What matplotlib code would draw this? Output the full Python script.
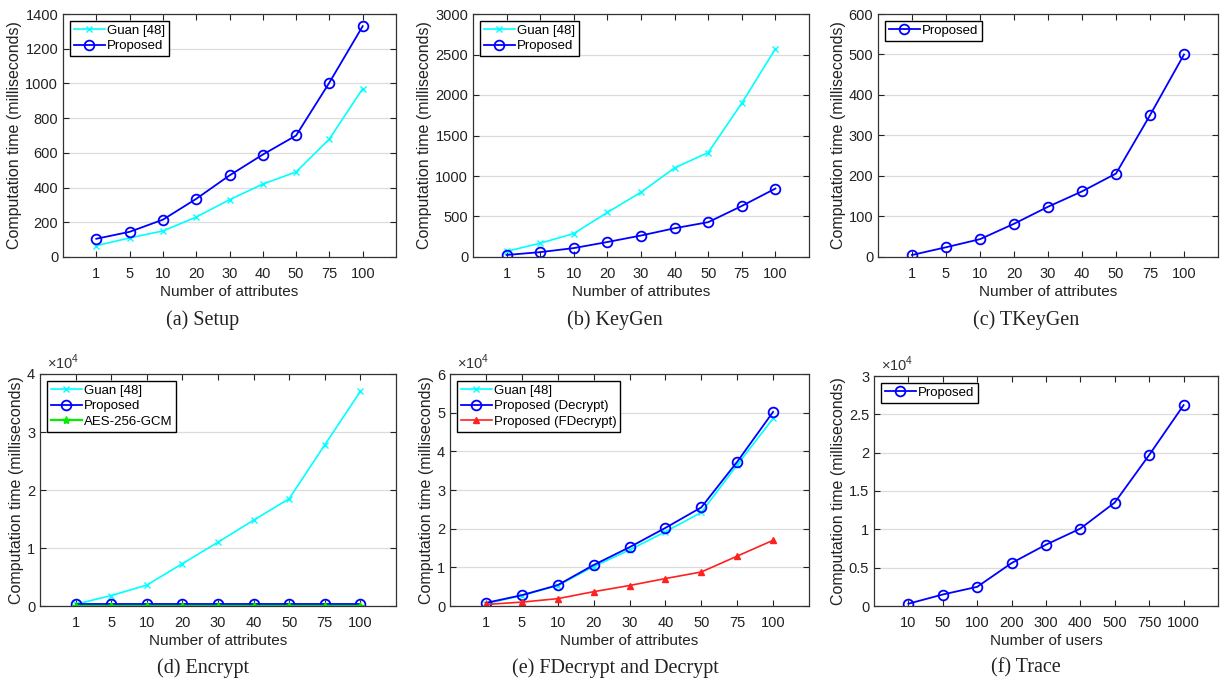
import numpy as np
import matplotlib
matplotlib.use("Agg")
import matplotlib.pyplot as plt
from matplotlib.ticker import FuncFormatter

plt.rcParams['font.family'] = ['Liberation Sans', 'DejaVu Sans']
plt.rcParams['mathtext.fontset'] = 'custom'
plt.rcParams['mathtext.rm'] = 'Liberation Sans'

# x-axis categories
attrs = ['1', '5', '10', '20', '30', '40', '50', '75', '100']
users = ['10', '50', '100', '200', '300', '400', '500', '750', '1000']

# (a) Setup
setup_guan = [65, 110, 150, 230, 330, 420, 490, 680, 970]
setup_prop = [105, 145, 215, 335, 470, 590, 700, 1005, 1330]
# (b) KeyGen
keygen_guan = [70, 170, 290, 550, 800, 1100, 1290, 1900, 2570]
keygen_prop = [25, 60, 110, 185, 265, 355, 430, 630, 845]
# (c) TKeyGen
tkeygen_prop = [5, 24, 44, 82, 124, 162, 206, 350, 500]
# (d) Encrypt
enc_guan = [300, 1800, 3600, 7300, 11000, 14800, 18500, 27800, 37000]
enc_prop = [320, 320, 320, 320, 320, 320, 320, 320, 320]
enc_aes = [40, 40, 40, 40, 40, 40, 40, 40, 40]
# (e) FDecrypt and Decrypt
dec_guan = [600, 2700, 5300, 10200, 14500, 19200, 24200, 36500, 48500]
dec_prop = [800, 2800, 5400, 10600, 15200, 20200, 25500, 37300, 50200]
fdec_prop = [400, 1000, 1900, 3700, 5300, 7100, 8800, 12900, 17000]
# (f) Trace
trace_prop = [300, 1500, 2500, 5600, 8000, 10100, 13500, 19700, 26200]

W, H = 1225, 683
fig = plt.figure(figsize=(W / 100, H / 100), dpi=100)


def make_ax(l, t, r, b):
    return fig.add_axes([l / W, 1 - b / H, (r - l) / W, (b - t) / H])


def style(ax, xt, xlabel, ymax, ystep, sci=False):
    x = np.arange(1, len(xt) + 1)
    ax.set_xlim(0, len(xt) + 1)
    ax.set_xticks(x)
    ax.set_xticklabels(xt)
    ax.set_ylim(0, ymax)
    ax.set_yticks(np.arange(0, ymax + ystep / 2, ystep))
    ax.yaxis.grid(True, color='#dcdcdc', lw=0.9)
    ax.set_axisbelow(True)
    ax.tick_params(direction='in', top=True, right=True, labelsize=10.5,
                   length=4, colors='#222222')
    ax.tick_params(axis='x', pad=7)
    for s in ax.spines.values():
        s.set_color('#333333')
        s.set_linewidth(0.9)
    ax.set_xlabel(xlabel, fontsize=11, color='#222222', labelpad=3)
    ax.set_ylabel('Computation time (milliseconds)', fontsize=11.5,
                  color='#222222', labelpad=2)
    if sci:
        ax.yaxis.set_major_formatter(
            FuncFormatter(lambda v, p: '%g' % (v / 1e4)))
        ax.text(0.02, 1.01, r'$\times10^{4}$', transform=ax.transAxes,
                ha='left', va='bottom', fontsize=10.5, color='#333333')
    return x


def legend(ax):
    leg = ax.legend(loc='upper left', fontsize=9.5, fancybox=False,
                    edgecolor='black', framealpha=1, borderpad=0.3,
                    handlelength=2.4, handletextpad=0.1, labelspacing=0.25,
                    borderaxespad=0.5)
    leg.get_frame().set_linewidth(1.0)


cy = dict(color='#00ffff', marker='x', ms=4, lw=1.2)
bl = dict(color='#0000ff', marker='o', ms=7, mfc='none', mew=1.3, lw=1.3)

# (a)
ax = make_ax(63, 14, 396, 257)
x = style(ax, attrs, 'Number of attributes', 1400, 200)
ax.plot(x, setup_guan, label='Guan [48]', **cy)
ax.plot(x, setup_prop, label='Proposed', **bl)
legend(ax)

# (b)
ax = make_ax(473, 14, 809, 257)
x = style(ax, attrs, 'Number of attributes', 3000, 500)
ax.plot(x, keygen_guan, label='Guan [48]', **cy)
ax.plot(x, keygen_prop, label='Proposed', **bl)
legend(ax)

# (c)
ax = make_ax(878, 14, 1218, 257)
x = style(ax, attrs, 'Number of attributes', 600, 100)
ax.plot(x, tkeygen_prop, label='Proposed', **bl)
legend(ax)

# (d)
ax = make_ax(40, 374, 396, 606)
x = style(ax, attrs, 'Number of attributes', 40000, 10000, sci=True)
ax.plot(x, enc_guan, label='Guan [48]', **cy)
ax.plot(x, enc_prop, label='Proposed', **bl)
ax.plot(x, enc_aes, label='AES-256-GCM', color='#00ee00', marker='*',
        ms=6, lw=1.6)
legend(ax)

# (e)
ax = make_ax(450, 374, 809, 606)
x = style(ax, attrs, 'Number of attributes', 60000, 10000, sci=True)
ax.plot(x, dec_guan, label='Guan [48]', **cy)
ax.plot(x, dec_prop, label='Proposed (Decrypt)', **bl)
ax.plot(x, fdec_prop, label='Proposed (FDecrypt)', color='#ff2020',
        marker='^', ms=5, lw=1.2)
legend(ax)

# (f)
ax = make_ax(874, 376, 1218, 606)
x = style(ax, users, 'Number of users', 30000, 5000, sci=True)
ax.plot(x, trace_prop, label='Proposed', **bl)
legend(ax)

# captions
caps = [('(a) Setup', 203, 320), ('(b) KeyGen', 615, 320),
        ('(c) TKeyGen', 1026, 320), ('(d) Encrypt', 203, 668),
        ('(e) FDecrypt and Decrypt', 615, 668), ('(f) Trace', 1026, 668)]
for txt, cx, cyy in caps:
    fig.text(cx / W, 1 - cyy / H, txt, ha='center', va='center',
             fontsize=14.5, family='Liberation Serif', color='#222222')

fig.savefig('out.png', dpi=100)
